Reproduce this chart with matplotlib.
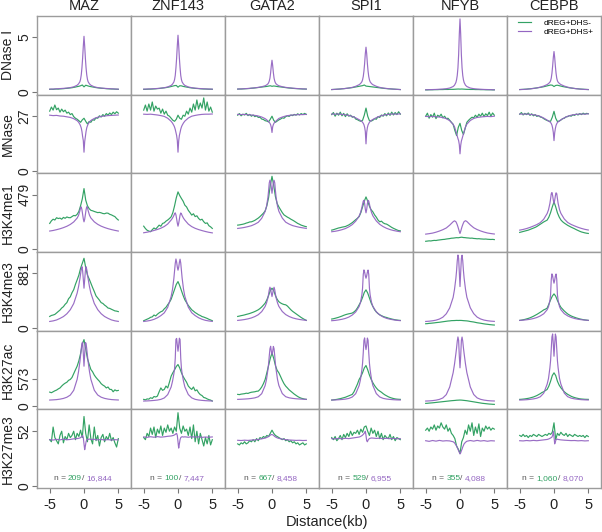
import numpy as np
import matplotlib
matplotlib.use('Agg')
import matplotlib.pyplot as plt
from matplotlib.transforms import offset_copy
from matplotlib.lines import Line2D

plt.rcParams['font.family'] = ['Liberation Sans', 'DejaVu Sans']

FACTORS = ['MAZ', 'ZNF143', 'GATA2', 'SPI1', 'NFYB', 'CEBPB']
MARKS = ['DNase I', 'MNase', 'H3K4me1', 'H3K4me3', 'H3K27ac', 'H3K27me3']
KEYS = ['DN', 'MN', 'K4ME1', 'K4ME3', 'K27AC', 'K27ME3']
FKEYS = ['MAZ', 'ZNF', 'GATA', 'SPI', 'NFYB', 'CEBPB']
YTICK_VALUES = [5, 27, 479, 881, 573, 52]
Y_LIMITS = [(-0.27, 6.97), (-1.1, 37.6), (-26, 665), (-48, 1224), (-69, 1583), (-1.9, 72.8)]
N_NEG = ['209', '100', '667', '529', '355', '1,060']
N_POS = ['16,844', '7,447', '8,458', '6,955', '4,088', '8,070']
LEGEND_LABELS = ['dREG+DHS-', 'dREG+DHS+']

# distance grid (kb) for dREG+DHS+ profiles
X_PURPLE = [-5, -4.5, -4, -3.5, -3, -2.5, -2, -1.5, -1, -0.8, -0.6, -0.5, -0.4, -0.3, -0.2, -0.1, 0,
            0.1, 0.2, 0.3, 0.4, 0.5, 0.6, 0.8, 1, 1.5, 2, 2.5, 3, 3.5, 4, 4.5, 5]
# distance grid (kb) for dREG+DHS- profiles
X_GREEN = [-5, -4.75, -4.5, -4.25, -4, -3.75, -3.5, -3.25, -3, -2.75, -2.5, -2.25, -2,
           -1.75, -1.5, -1.25, -1, -0.75, -0.5, -0.25, 0, 0.25, 0.5, 0.75, 1,
           1.25, 1.5, 1.75, 2, 2.25, 2.5, 2.75, 3, 3.25, 3.5, 3.75, 4, 4.25, 4.5, 4.75, 5]

# ---------------- DNase I ----------------
DN_MAZ_P = [0.24,0.25,0.27,0.29,0.31,0.34,0.38,0.45,0.60,0.72,0.92,1.15,1.55,2.20,3.10,4.20,5.10,
            4.20,3.10,2.20,1.55,1.15,0.92,0.72,0.60,0.45,0.38,0.34,0.31,0.29,0.27,0.25,0.24]
DN_ZNF_P = [0.24,0.25,0.26,0.28,0.30,0.33,0.37,0.44,0.58,0.70,0.90,1.12,1.50,2.20,3.10,4.25,5.20,
            4.25,3.10,2.20,1.50,1.12,0.90,0.70,0.58,0.44,0.37,0.33,0.30,0.28,0.26,0.25,0.24]
DN_GATA_P = [0.25,0.26,0.28,0.30,0.33,0.36,0.40,0.46,0.55,0.62,0.72,0.82,0.98,1.25,1.75,2.40,2.90,
             2.40,1.75,1.25,0.98,0.82,0.72,0.62,0.55,0.46,0.40,0.36,0.33,0.30,0.28,0.26,0.25]
DN_SPI_P = [0.20,0.22,0.24,0.27,0.30,0.34,0.40,0.50,0.65,0.75,0.92,1.10,1.40,1.90,2.60,3.50,4.10,
            3.50,2.60,1.90,1.40,1.10,0.92,0.75,0.65,0.50,0.40,0.34,0.30,0.27,0.24,0.22,0.20]
DN_NFYB_P = [0.18,0.19,0.20,0.21,0.23,0.25,0.28,0.34,0.48,0.60,0.85,1.10,1.50,2.20,3.40,5.30,6.70,
             5.30,3.40,2.20,1.50,1.10,0.85,0.60,0.48,0.34,0.28,0.25,0.23,0.21,0.20,0.19,0.18]
DN_CEBPB_P = [0.20,0.21,0.23,0.26,0.30,0.35,0.42,0.52,0.66,0.75,0.88,1.00,1.25,1.70,2.35,3.15,3.70,
              3.15,2.35,1.70,1.25,1.00,0.88,0.75,0.66,0.52,0.42,0.35,0.30,0.26,0.23,0.21,0.20]

DN_MAZ_G = [0.22, 0.23,0.22,0.24,0.25, 0.24,0.26,0.27,0.28, 0.30,0.31,0.33,0.35, 0.37,0.40,0.43,0.47,
            0.50,0.55,0.62,0.45, 0.60,0.55,0.50,0.47, 0.44,0.41,0.38,0.36, 0.34,0.32,0.31,0.30,
            0.28,0.27,0.26,0.25, 0.25,0.24,0.23,0.22]
DN_ZNF_G = [0.22, 0.22,0.23,0.24,0.24, 0.25,0.26,0.27,0.29, 0.30,0.32,0.34,0.36, 0.38,0.41,0.44,0.48,
            0.52,0.56,0.58,0.42, 0.55,0.54,0.49,0.46, 0.43,0.40,0.37,0.35, 0.33,0.31,0.30,0.29,
            0.27,0.26,0.25,0.25, 0.24,0.23,0.23,0.22]
DN_GATA_G = [0.24, 0.25,0.25,0.26,0.27, 0.28,0.29,0.30,0.32, 0.33,0.35,0.37,0.39, 0.41,0.43,0.45,0.47,
             0.49,0.52,0.55,0.50, 0.53,0.51,0.48,0.46, 0.44,0.42,0.40,0.38, 0.36,0.34,0.33,0.31,
             0.30,0.29,0.28,0.27, 0.26,0.25,0.25,0.24]
DN_SPI_G = [0.20, 0.21,0.22,0.23,0.24, 0.25,0.27,0.28,0.30, 0.32,0.34,0.36,0.38, 0.41,0.44,0.47,0.50,
            0.53,0.56,0.62,0.52, 0.50,0.48,0.46,0.44, 0.42,0.40,0.38,0.36, 0.34,0.32,0.30,0.29,
            0.27,0.26,0.25,0.24, 0.23,0.22,0.21,0.20]
DN_NFYB_G = [0.17, 0.17,0.18,0.18,0.18, 0.19,0.19,0.19,0.20, 0.20,0.20,0.21,0.21, 0.21,0.22,0.22,0.22,
             0.23,0.24,0.25,0.24, 0.25,0.24,0.23,0.22, 0.22,0.21,0.21,0.21, 0.20,0.20,0.20,0.19,
             0.19,0.19,0.18,0.18, 0.18,0.18,0.17,0.17]
DN_CEBPB_G = [0.20, 0.21,0.22,0.23,0.24, 0.26,0.27,0.29,0.31, 0.33,0.35,0.38,0.40, 0.43,0.46,0.50,0.54,
              0.58,0.62,0.60,0.48, 0.58,0.60,0.56,0.52, 0.48,0.45,0.42,0.39, 0.36,0.34,0.32,0.30,
              0.28,0.27,0.25,0.24, 0.23,0.22,0.21,0.20]

# ---------------- MNase ----------------
MN_MAZ_P = [27.5,27.3,27.4,27.1,27.0,26.7,26.4,25.8,24.8,24.1,23.0,22.2,21.2,19.5,17.0,15.0,9.3,
            14.5,17.0,19.5,21.3,22.3,23.1,24.2,24.9,25.9,26.5,26.9,27.1,27.3,27.4,27.5,27.6]
MN_ZNF_P = [28.0,27.9,28.0,27.8,27.6,27.3,26.9,26.0,24.5,23.6,22.4,21.6,20.5,19.0,17.5,15.0,9.3,
            14.8,17.5,19.0,20.6,21.7,22.5,23.7,24.6,26.1,27.0,27.4,27.7,27.9,28.0,28.0,28.1]
MN_GATA_P = [27.9,27.8,27.9,27.7,27.6,27.4,27.1,26.6,25.8,25.3,24.7,24.3,24.0,23.5,22.8,21.5,19.0,
             21.8,22.9,23.6,24.0,24.3,24.7,25.3,25.9,26.6,27.1,27.4,27.6,27.7,27.8,27.8,27.9]
MN_SPI_P = [28.1,28.0,28.1,27.9,27.7,27.4,26.9,26.2,25.3,24.9,24.4,24.0,23.5,22.8,21.6,19.5,13.4,
            19.0,21.4,22.7,23.4,24.0,24.4,25.0,25.4,26.3,27.0,27.5,27.8,28.0,28.1,28.0,28.2]
MN_NFYB_P = [26.9,26.8,26.9,26.7,26.6,26.3,25.8,24.8,23.0,21.8,19.6,18.4,17.2,16.0,15.0,13.0,8.5,
             12.6,14.8,15.9,17.1,18.3,19.5,21.7,23.1,24.9,25.9,26.4,26.6,26.8,26.9,26.8,27.0]
MN_CEBPB_P = [28.1,28.0,28.1,27.9,27.7,27.4,26.9,26.1,25.1,24.6,24.2,23.9,23.4,22.6,21.2,19.0,15.0,
              18.8,21.0,22.5,23.3,23.9,24.2,24.7,25.2,26.2,27.0,27.5,27.8,28.0,28.1,28.0,28.2]

MN_MAZ_G = [29.5, 31.5,30.0,32.5,30.2, 31.0,29.0,30.5,29.2, 30.0,28.5,29.0,27.8, 28.3,26.8,26.0,25.5,
            24.8,24.0,25.2,26.0, 24.5,23.2,24.4,24.0, 25.3,25.0,26.2,26.0, 27.2,26.6,27.8,27.0,
            28.3,27.5,28.6,27.8, 29.0,28.2,29.2,28.5]
MN_ZNF_G = [30.0, 32.5,29.5,33.0,30.0, 34.0,29.5,32.0,30.5, 31.0,28.5,30.5,28.0, 29.5,27.5,27.0,26.0,
            25.0,24.5,25.5,27.5, 26.0,25.5,27.5,27.0, 29.5,28.0,31.0,29.0, 33.0,30.0,35.0,30.5,
            33.5,31.0,36.0,30.0, 34.0,29.5,31.5,29.0]
MN_GATA_G = [27.5, 28.3,27.2,28.0,27.6, 28.4,27.3,27.9,27.0, 27.6,26.8,27.2,26.4, 26.5,25.6,25.4,24.8,
             24.6,24.2,25.5,27.0, 25.0,24.0,24.6,25.2, 25.6,26.2,26.0,26.8, 27.2,26.9,27.6,27.3,
             27.9,27.5,28.2,27.6, 28.3,27.8,28.4,27.9]
MN_SPI_G = [27.8, 28.8,27.0,28.5,27.5, 29.0,27.2,28.4,26.8, 28.2,27.0,27.5,26.5, 26.8,25.6,25.3,24.8,
            24.5,25.0,27.5,31.0, 27.0,24.8,24.6,25.0, 25.8,25.5,26.8,26.4, 27.6,27.0,28.3,27.2,
            28.6,27.4,29.0,27.6, 28.8,27.8,29.2,28.0]
MN_NFYB_G = [27.0, 28.5,26.0,27.8,26.5, 28.5,25.8,27.5,26.8, 28.0,26.2,27.0,25.8, 26.0,25.0,24.0,23.0,
             20.0,17.5,21.5,23.5, 20.0,18.0,21.0,24.0, 25.0,25.8,26.5,26.2, 27.5,26.5,28.0,27.0,
             28.5,26.8,28.2,27.3, 29.0,27.0,28.6,27.5]
MN_CEBPB_G = [28.0, 28.8,27.6,28.4,27.8, 28.6,27.4,28.2,27.2, 27.8,26.9,27.3,26.6, 26.4,25.8,25.3,24.9,
              24.6,24.5,26.5,29.4, 26.0,24.4,24.6,25.1, 25.8,26.0,26.7,26.8, 27.3,27.0,27.7,27.4,
              28.1,27.6,28.3,27.8, 28.5,28.0,28.4,28.2]

# ---------------- H3K4me1 ----------------
K4ME1_MAZ_P = [158,163,170,178,188,200,216,238,272,295,335,365,370,345,305,265,239,
               262,302,345,372,366,338,297,273,239,217,201,189,179,171,164,158]
K4ME1_ZNF_P = [143,148,155,163,172,183,198,220,255,272,295,310,318,300,265,228,201,
               226,262,298,317,309,294,271,254,219,197,182,171,162,154,147,142]
K4ME1_GATA_P = [181,185,190,197,205,218,235,270,330,375,450,510,580,605,585,540,490,
                538,582,604,582,512,452,377,332,272,236,219,206,198,191,186,181]
K4ME1_SPI_P = [152,156,162,170,180,195,215,245,290,320,365,395,420,429,400,350,318,
               348,398,428,421,396,366,322,292,247,217,197,182,171,163,157,152]
K4ME1_NFYB_P = [131,135,140,148,158,170,185,210,240,248,240,228,213,195,175,153,137,
                155,177,197,214,229,241,249,242,212,187,171,159,149,141,136,132]
K4ME1_CEBPB_P = [166,172,180,190,202,215,232,262,312,345,400,440,485,496,470,430,400,
                 428,468,494,486,442,402,347,314,264,233,216,203,191,181,173,167]

K4ME1_MAZ_G = [225, 248,262,255,275, 268,272,262,278, 270,282,276,275, 285,295,292,305,
               330,380,440,531, 430,380,355,340, 336,330,325,320, 322,318,312,310,
               316,315,305,300, 292,285,268,255]
K4ME1_ZNF_G = [201, 180,165,158,152, 170,185,175,192, 210,200,225,230, 245,255,268,283,
               320,380,450,502, 470,444,420,385, 370,340,320,298, 310,285,292,269,
               255,262,240,225, 230,205,195,181]
K4ME1_GATA_G = [210, 212,215,218,222, 228,232,238,239, 245,252,262,272, 285,300,315,335,
                380,450,560,639, 560,460,400,370, 345,320,300,290, 280,272,262,254,
                245,235,225,218, 210,205,200,196]
K4ME1_SPI_G = [166, 170,175,180,185, 188,192,195,198, 205,212,222,232, 245,258,270,285,
               320,370,420,458, 420,375,345,327, 300,280,255,239, 245,230,222,219,
               210,200,190,182, 175,168,162,160]
K4ME1_NFYB_G = [68, 70,72,71,74, 76,75,78,80, 82,84,85,88, 90,92,95,96,
                98,100,99,102, 104,101,100,98, 97,95,96,93, 92,90,91,89,
                88,87,88,86, 85,84,85,83]
K4ME1_CEBPB_G = [146, 150,154,158,162, 166,172,178,184, 190,198,208,218, 228,238,246,254,
                 280,320,370,414, 370,318,282,256, 240,228,218,208, 200,192,185,178,
                 170,163,156,150, 146,142,139,137]

# ---------------- H3K4me3 ----------------
K4ME3_MAZ_P = [101,110,125,150,180,225,290,390,559,660,790,870,940,987,920,780,639,
               775,918,985,942,872,792,662,560,392,292,226,181,151,126,111,102]
K4ME3_ZNF_P = [101,108,118,135,160,195,240,330,504,620,800,920,1040,1111,1060,980,930,
               975,1055,1108,1045,925,805,625,506,332,242,196,161,136,119,109,102]
K4ME3_GATA_P = [118,124,132,143,158,180,210,260,343,400,480,540,610,655,620,560,504,
                558,618,654,612,542,482,402,345,262,212,181,159,144,133,125,119]
K4ME3_SPI_P = [113,118,126,136,150,172,205,255,343,410,530,640,860,934,900,840,800,
               838,898,932,862,642,532,412,345,257,206,173,151,137,127,119,114]
K4ME3_NFYB_P = [101,105,112,122,140,170,225,320,490,620,800,920,1080,1175,1120,900,665,
                895,1118,1172,1082,922,802,622,492,322,227,171,141,123,113,106,102]
K4ME3_CEBPB_P = [118,122,128,136,148,165,190,225,290,340,440,530,780,870,840,770,720,
                 768,838,868,782,532,442,342,292,227,191,166,149,137,129,123,119]

K4ME3_MAZ_G = [182, 198,205,215,238, 262,285,318,340, 378,405,468,500, 565,615,700,773,
               850,960,1040,1122, 970,850,790,720, 650,585,515,480, 445,405,392,365,
               345,318,312,298, 285,272,268,260]
K4ME3_ZNF_G = [113, 125,138,150,168, 175,205,190,218, 240,258,270,305, 330,372,410,460,
               540,620,700,746, 680,600,520,451, 405,360,325,290, 268,245,228,209,
               197,180,172,161, 150,136,125,113]
K4ME3_GATA_G = [182, 188,195,200,207, 215,222,230,240, 250,262,275,290, 310,335,365,397,
                450,520,600,639, 600,520,460,420, 400,385,375,370, 350,320,290,265,
                245,225,205,185, 165,148,132,118]
K4ME3_SPI_G = [140, 145,152,160,168, 178,188,200,210, 218,225,230,237, 255,280,320,370,
               420,490,570,612, 560,480,400,343, 290,255,228,209, 195,182,172,165,
               155,148,140,134, 128,124,120,118]
K4ME3_NFYB_G = [64, 66,70,72,75, 78,82,85,88, 92,96,100,104, 108,110,114,115,
                116,118,117,118, 117,114,112,110, 106,100,96,92, 86,80,76,72,
                67,62,58,55, 51,48,45,43]
K4ME3_CEBPB_G = [118, 122,128,134,142, 150,160,172,185, 200,215,232,250, 268,288,300,317,
                 380,450,510,547, 510,440,380,330, 300,270,245,222, 205,190,178,168,
                 158,150,142,136, 130,126,122,118]

# ---------------- H3K27ac ----------------
K27AC_MAZ_P = [126,130,135,145,160,185,230,330,560,720,930,1060,1200,1320,1339,1100,837,
               1095,1335,1318,1198,1062,932,722,562,332,232,186,161,146,136,131,127]
K27AC_ZNF_P = [105,108,112,118,126,140,170,240,400,520,680,790,1000,1400,1420,1280,1151,
               1275,1425,1398,1002,792,682,522,402,242,172,141,127,119,113,109,106]
K27AC_GATA_P = [140,143,147,152,160,172,195,260,430,560,760,880,1050,1200,1255,1150,1082,
                1148,1252,1202,1052,882,762,562,432,262,196,173,161,153,148,144,141]
K27AC_SPI_P = [126,128,132,138,146,160,190,260,430,560,760,900,1120,1380,1431,1280,1186,
               1278,1428,1382,1122,902,762,562,432,262,191,161,147,139,133,129,127]
K27AC_NFYB_P = [105,108,114,124,140,170,240,400,700,880,1100,1220,1360,1451,1380,1050,803,
                1045,1378,1449,1362,1222,1102,882,702,402,242,171,141,125,115,109,106]
K27AC_CEBPB_P = [126,129,133,140,150,165,195,270,460,580,800,950,1200,1450,1514,1300,1046,
                 1298,1512,1452,1202,952,802,582,462,272,196,166,151,141,134,130,127]

K27AC_MAZ_G = [293, 280,300,320,335, 360,380,420,454, 480,500,540,558, 600,680,760,837,
               950,1100,1300,1395, 1200,1000,880,768, 720,650,600,558, 520,470,440,418,
               380,400,350,349, 300,340,320,328]
K27AC_ZNF_G = [140, 130,150,145,175, 160,200,190,209, 300,380,330,349, 420,380,500,628,
               700,760,830,872, 800,700,620,558, 500,420,380,349, 400,320,340,280,
               240,220,180,170, 150,135,125,105]
K27AC_GATA_G = [245, 240,250,255,260, 270,265,280,290, 295,300,310,314, 350,400,470,558,
                700,850,1000,1117, 1000,850,750,698, 620,540,470,418, 380,340,310,280,
                250,225,200,180, 165,155,145,140]
K27AC_SPI_G = [126, 130,135,140,148, 155,165,175,185, 200,215,230,245, 300,380,460,558,
               620,700,800,851, 760,650,560,489, 430,380,340,314, 290,260,235,215,
               195,180,168,158, 150,145,142,140]
K27AC_NFYB_G = [56, 58,62,65,68, 72,76,80,84, 88,92,96,100, 104,108,112,115,
                118,122,124,126, 124,120,116,112, 106,100,94,88, 82,76,70,64,
                58,54,50,46, 42,40,37,35]
K27AC_CEBPB_G = [140, 142,146,150,156, 162,170,180,190, 205,220,240,260, 285,300,325,349,
                 420,520,640,698, 640,520,440,384, 340,300,270,245, 225,205,190,178,
                 168,160,152,148, 145,142,141,140]

# ---------------- H3K27me3 ----------------
K27ME3_MAZ_P = [44.0,43.6,44.3,43.8,44.5,43.9,44.2,44.8,45.0,45.3,45.6,46.0,46.5,47.2,48.0,46.0,40.0,
                34.5,38.0,42.0,44.0,44.5,44.2,44.6,44.1,44.4,43.8,44.2,43.7,44.1,43.6,44.0,43.8]
K27ME3_ZNF_P = [46.6,46.2,46.8,46.3,46.9,46.4,46.7,47.2,47.5,47.8,48.2,48.6,49.0,49.6,50.0,48.0,42.0,
                36.0,40.0,44.0,46.0,46.5,46.8,46.5,46.7,46.3,46.8,46.4,46.7,46.2,46.5,46.3,46.6]
K27ME3_GATA_P = [43.4,43.2,43.5,43.3,43.6,43.8,44.2,44.8,45.5,46.0,46.6,47.0,47.5,48.0,48.5,48.8,48.8,
                 48.6,48.2,47.6,47.0,46.6,46.2,45.6,45.2,44.6,44.0,43.7,43.5,43.3,43.4,43.2,43.3]
K27ME3_SPI_P = [45.0,44.7,45.2,44.8,45.3,45.0,45.5,46.0,46.5,47.0,47.8,48.3,49.0,49.8,50.5,52.0,48.0,
                43.0,42.0,43.5,44.5,45.0,45.3,45.6,45.5,45.2,45.4,45.0,45.3,44.9,45.2,44.8,45.0]
K27ME3_NFYB_P = [43.0,42.4,43.2,42.6,43.3,42.7,43.0,42.8,42.0,41.0,39.0,38.0,36.5,35.0,33.5,32.0,30.4,
                 31.5,33.5,35.0,37.0,38.5,40.0,41.5,42.5,43.2,42.6,43.3,42.7,43.1,42.5,43.0,42.8]
K27ME3_CEBPB_P = [43.0,42.8,43.2,42.9,43.3,43.0,43.4,43.8,44.2,44.6,45.2,45.6,46.0,46.5,48.0,52.0,47.0,
                  40.0,42.0,44.0,44.3,44.5,44.2,44.0,43.8,43.5,43.3,43.1,43.2,42.9,43.1,42.8,43.0]

K27ME3_MAZ_G = [44, 42,56,46,43, 40,48,52,41, 47,44,50,46, 48,52,44,50,
                47,53,46,66, 50,42,58,45, 40,56,43,48, 38,46,49,42,
                47,44,50,43, 46,41,37,45]
K27ME3_ZNF_G = [46, 44,50,47,55, 49,56,46,54, 50,57,48,55, 51,58,52,55,
                50,56,52,69.6, 55,50,57,52, 54,48,56,45, 58,42,52,40,
                50,44,38,46, 40,48,39,44]
K27ME3_GATA_G = [40, 39,41,40,42, 40,41,43,42, 44,42,45,43, 46,45,47,46,
                 48,47,50,53, 50,48,47,46, 45,44,45,43, 44,42,43,41,
                 42,40,41,39, 40,41,39,40]
K27ME3_SPI_G = [46, 44,47,43,45, 48,44,49,46, 50,47,52,48, 51,50,53,49,
                54,51,56,57, 52,48,55,50, 53,47,52,45, 50,44,48,46,
                45,49,44,47, 43,46,45,44]
K27ME3_NFYB_G = [53, 55,52,56,54, 58,53,57,55, 60,56,54,58, 52,55,50,48,
                 45,38,35,31, 42,46,53,49, 58,52,60,48, 56,50,59,47,
                 55,52,57,54, 56,53,55,54]
K27ME3_CEBPB_G = [48, 47,49,47,48, 46,48,47,49, 48,47,49,48, 47,48,49,48,
                  50,49,51,60, 44,50,48,51, 49,48,50,47, 49,48,47,49,
                  48,47,48,47, 48,46,48,47]

GREEN = '#33a264'
PURPLE = '#9466c2'
SPINE = '#9c9c9c'
TEXT = '#222222'
NTEXT = '#555555'

W, H = 602, 532
fig = plt.figure(figsize=(W / 100, H / 100), dpi=100)
gs = fig.add_gridspec(6, 6, left=37 / W, right=601 / W, top=1 - 16 / H, bottom=1 - 488 / H,
                      hspace=0, wspace=0)
g = globals()
axes = [[None] * 6 for _ in range(6)]
for r in range(6):
    for c in range(6):
        ax = fig.add_subplot(gs[r, c])
        axes[r][c] = ax
        yg = g[f'{KEYS[r]}_{FKEYS[c]}_G']
        yp = g[f'{KEYS[r]}_{FKEYS[c]}_P']
        ax.plot(X_GREEN, yg, color=GREEN, lw=0.85, zorder=2)
        ax.plot(X_PURPLE, yp, color=PURPLE, lw=0.85, alpha=0.95, zorder=3)
        ax.set_xlim(-6.85, 6.85)
        ax.set_ylim(*Y_LIMITS[r])
        for s in ax.spines.values():
            s.set_color(SPINE)
            s.set_linewidth(1.0)
        ax.tick_params(axis='both', direction='out', length=3.5, width=0.8, color='#777777',
                       labelcolor=TEXT, labelsize=10.5)
        ax.tick_params(axis='y', pad=0.5, labelsize=10)
        ax.tick_params(axis='x', pad=4)
        if c == 0:
            ax.set_yticks([0, YTICK_VALUES[r]])
            ax.set_yticklabels(['0', str(YTICK_VALUES[r])], rotation=90, va='center')
        else:
            ax.set_yticks([])
        if r == 5:
            ax.set_xticks([-5, 0, 5])
            ax.set_xticklabels(['-5', '0', '5'])
        else:
            ax.set_xticks([])
        if r == 0:
            ax.set_title(FACTORS[c], fontsize=10.5, color=TEXT, pad=4)

# row labels
for r in range(6):
    bb = axes[r][0].get_position()
    fig.text(8 / W, (bb.y0 + bb.y1) / 2, MARKS[r], rotation=90, ha='center', va='center',
             fontsize=10, color=TEXT)

fig.text(327 / W, 1 - 522 / H, 'Distance(kb)', ha='center', va='center', fontsize=10.5, color=TEXT)

# legend
handles = [Line2D([], [], color=GREEN, lw=0.85), Line2D([], [], color=PURPLE, lw=0.85)]
axes[0][5].legend(handles, LEGEND_LABELS, loc='upper left', bbox_to_anchor=(518 / W, 1 - 19 / H),
                  bbox_transform=fig.transFigure, frameon=False, fontsize=6, handlelength=1.5,
                  handletextpad=1.6, labelspacing=0.2, borderpad=0, borderaxespad=0)

# n = counts text (multi-coloured pieces on one baseline)
renderer = fig.canvas.get_renderer()
def width_of(s, size):
    t = fig.text(0, 0, s, fontsize=size)
    w = t.get_window_extent(renderer).width
    t.remove()
    return w

space_w = width_of('n n', 6) - width_of('nn', 6)
for c in range(6):
    ax = axes[5][c]
    parts = [('n =', NTEXT, space_w), (N_NEG[c], GREEN, 0), ('/', NTEXT, space_w),
             (N_POS[c], PURPLE, 0)]
    texts, widths = [], []
    for s, col, gap in parts:
        t = ax.text(0, 0.105, s, color=col, fontsize=6, transform=ax.transAxes, ha='left',
                    va='baseline')
        texts.append(t)
        widths.append(t.get_window_extent(renderer).width + gap)
    total = sum(widths)
    axbb = ax.get_window_extent(renderer)
    pos = axbb.width * 0.49 - total / 2
    for t, w in zip(texts, widths):
        t.set_transform(offset_copy(ax.transAxes, fig=fig, x=pos, y=0, units='dots'))
        pos += w

fig.savefig('out.png', dpi=100)
